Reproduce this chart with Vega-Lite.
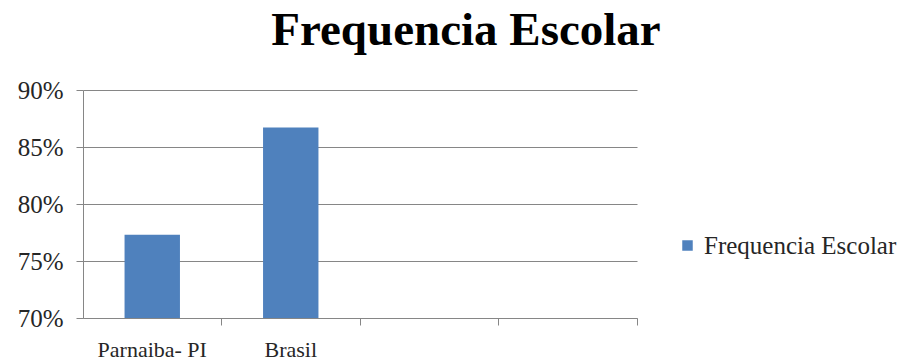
{
  "$schema": "https://vega.github.io/schema/vega-lite/v6.json",
  "width": 554,
  "height": 228,
  "autosize": {"type": "none"},
  "padding": {"left": 83, "top": 90, "right": 268, "bottom": 42},
  "background": "white",
  "title": {
    "text": "Frequencia Escolar",
    "font": "Liberation Serif",
    "fontSize": 47,
    "fontWeight": "bold",
    "color": "#000000",
    "anchor": "middle",
    "frame": "group",
    "dx": 106,
    "offset": 23
  },
  "data": {
    "values": [
      {"local": "Parnaiba- PI", "valor": 0.773, "serie": "Frequencia Escolar"},
      {"local": "Brasil", "valor": 0.867, "serie": "Frequencia Escolar"}
    ]
  },
  "mark": {"type": "bar", "color": "#4F81BD"},
  "encoding": {
    "x": {
      "field": "local",
      "type": "nominal",
      "sort": null,
      "scale": {"domain": ["Parnaiba- PI", "Brasil", "c3", "c4"], "paddingInner": 0.6, "paddingOuter": 0.3},
      "axis": {
        "title": null,
        "labelAngle": 0,
        "labelExpr": "datum.value == 'c3' || datum.value == 'c4' ? '' : datum.value",
        "labelFont": "Liberation Serif",
        "labelFontSize": 22,
        "labelColor": "#262626",
        "labelPadding": 14,
        "labelBaseline": "top",
        "bandPosition": 1.755,
        "tickColor": "#868686",
        "tickSize": 7,
        "domainColor": "#868686",
        "grid": false
      }
    },
    "y": {
      "field": "valor",
      "type": "quantitative",
      "scale": {"domain": [0.7, 0.9], "zero": false, "nice": false},
      "axis": {
        "title": null,
        "format": ".0%",
        "values": [0.7, 0.75, 0.8, 0.85, 0.9],
        "labelFont": "Liberation Serif",
        "labelFontSize": 25,
        "labelColor": "#262626",
        "labelPadding": 13,
        "tickColor": "#868686",
        "tickSize": 7,
        "domainColor": "#868686",
        "gridColor": "#868686",
        "grid": true
      }
    },
    "y2": {"datum": 0.7},
    "color": {
      "field": "serie",
      "type": "nominal",
      "scale": {"range": ["#4F81BD"]},
      "legend": {
        "title": null,
        "orient": "none",
        "legendX": 592,
        "legendY": 143,
        "symbolType": "square",
        "symbolSize": 110,
        "symbolStrokeWidth": 0,
        "labelFont": "Liberation Serif",
        "labelFontSize": 25,
        "labelLimit": 0,
        "labelColor": "#262626",
        "labelOffset": 4
      }
    }
  },
  "config": {"view": {"stroke": null}}
}
